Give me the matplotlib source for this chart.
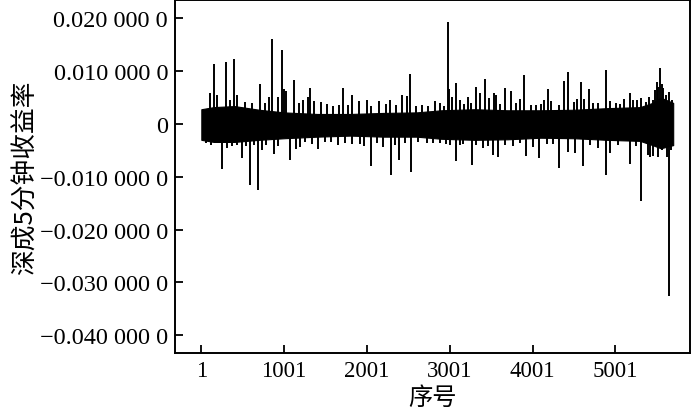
import matplotlib
matplotlib.use("Agg")
import matplotlib.pyplot as plt

# ---- data ----
# dense core band of the return series (sequence number, upper, lower)
band_idx = [1, 150, 400, 700, 1000, 1400, 1800, 2200, 2600, 2900, 3300,
            3700, 4100, 4500, 4900, 5300, 5450, 5550, 5700]
band_high = [0.0028, 0.0032, 0.0034, 0.0027, 0.0022, 0.0019, 0.0019, 0.0021,
             0.0022, 0.0026, 0.0028, 0.0026, 0.0026, 0.0027, 0.0030, 0.0032,
             0.0040, 0.0050, 0.0040]
band_low = [-0.0030, -0.0034, -0.0034, -0.0030, -0.0027, -0.0024, -0.0022,
            -0.0024, -0.0024, -0.0028, -0.0030, -0.0029, -0.0026, -0.0027,
            -0.0030, -0.0032, -0.0040, -0.0046, -0.0040]

# individual upward returns sticking out of the band
up_idx = [106, 151, 191, 299, 342, 396, 428, 529, 613, 704, 770, 813, 859,
          924, 979, 994, 1024, 1121, 1185, 1226, 1286, 1317, 1366, 1446, 1515,
          1592, 1668, 1716, 1773, 1825, 1906, 1999, 2051, 2148, 2232, 2280,
          2352, 2421, 2482, 2522, 2594, 2663, 2739, 2823, 2884, 2932, 2984,
          2996, 3025, 3073, 3125, 3168, 3218, 3258, 3315, 3367, 3433, 3470,
          3540, 3560, 3608, 3668, 3745, 3802, 3850, 3898, 3983, 4044, 4098,
          4140, 4185, 4224, 4321, 4385, 4433, 4502, 4535, 4583, 4626, 4683,
          4732, 4788, 4885, 4937, 5009, 5057, 5109, 5178, 5214, 5259, 5317,
          5372, 5408, 5456, 5486, 5500, 5522, 5540, 5559, 5580, 5612, 5654,
          5686]
up_val = [0.0059, 0.0114, 0.0055, 0.0118, 0.0045, 0.0123, 0.0055, 0.0042,
          0.0040, 0.0075, 0.0040, 0.0052, 0.0161, 0.0052, 0.0140, 0.0066,
          0.0062, 0.0084, 0.0040, 0.0046, 0.0052, 0.0069, 0.0044, 0.0041,
          0.0038, 0.0035, 0.0036, 0.0068, 0.0036, 0.0055, 0.0044, 0.0045,
          0.0034, 0.0044, 0.0038, 0.0045, 0.0036, 0.0055, 0.0053, 0.0095,
          0.0034, 0.0036, 0.0035, 0.0043, 0.0040, 0.0035, 0.0194, 0.0066,
          0.0051, 0.0078, 0.0046, 0.0038, 0.0051, 0.0040, 0.0071, 0.0059,
          0.0085, 0.0050, 0.0059, 0.0055, 0.0038, 0.0069, 0.0062, 0.0040,
          0.0047, 0.0093, 0.0036, 0.0036, 0.0037, 0.0045, 0.0066, 0.0044,
          0.0036, 0.0081, 0.0098, 0.0042, 0.0048, 0.0080, 0.0047, 0.0066,
          0.0040, 0.0040, 0.0103, 0.0043, 0.0040, 0.0038, 0.0047, 0.0059,
          0.0045, 0.0045, 0.0050, 0.0042, 0.0052, 0.0045, 0.0065, 0.0079,
          0.0070, 0.0106, 0.0075, 0.0068, 0.0055, 0.0061, 0.0045]

# individual downward returns sticking out of the band
down_idx = [58, 118, 247, 305, 372, 432, 490, 541, 589, 637, 682, 734, 782,
            883, 931, 1076, 1141, 1193, 1253, 1338, 1414, 1489, 1567, 1652,
            1737, 1821, 1918, 1970, 2050, 2123, 2199, 2292, 2340, 2388, 2461,
            2533, 2618, 2723, 2799, 2884, 2956, 3004, 3071, 3125, 3167, 3266,
            3318, 3407, 3463, 3527, 3581, 3669, 3765, 3850, 3922, 4010, 4079,
            4176, 4248, 4315, 4426, 4514, 4607, 4695, 4795, 4885, 4937, 5033,
            5178, 5250, 5308, 5399, 5420, 5461, 5513, 5565, 5622, 5650, 5674]
down_val = [-0.0036, -0.0040, -0.0085, -0.0045, -0.0042, -0.0040, -0.0064,
            -0.0042, -0.0115, -0.0040, -0.0126, -0.0049, -0.0040, -0.0056,
            -0.0042, -0.0069, -0.0047, -0.0043, -0.0035, -0.0038, -0.0047,
            -0.0035, -0.0034, -0.0040, -0.0036, -0.0037, -0.0037, -0.0042,
            -0.0080, -0.0036, -0.0043, -0.0096, -0.0040, -0.0069, -0.0036,
            -0.0091, -0.0035, -0.0036, -0.0036, -0.0036, -0.0038, -0.0040,
            -0.0071, -0.0040, -0.0038, -0.0077, -0.0040, -0.0045, -0.0042,
            -0.0058, -0.0063, -0.0040, -0.0042, -0.0036, -0.0060, -0.0044,
            -0.0064, -0.0038, -0.0038, -0.0083, -0.0053, -0.0055, -0.0079,
            -0.0040, -0.0045, -0.0096, -0.0055, -0.0040, -0.0075, -0.0042,
            -0.0146, -0.0058, -0.0062, -0.0060, -0.0062, -0.0050, -0.0062,
            -0.0326, -0.0050]

x_ticks = [1, 1001, 2001, 3001, 4001, 5001]
x_ticklabels = ["1", "1001", "2001", "3001", "4001", "5001"]
y_ticks = [0.02, 0.01, 0.0, -0.01, -0.02, -0.03, -0.04]
y_ticklabels = ["0.020 000 0", "0.010 000 0", "0", "\u22120.010 000 0",
                "\u22120.020 000 0", "\u22120.030 000 0", "\u22120.040 000 0"]

# ---- figure ----
fig = plt.figure(figsize=(7.0, 4.1), dpi=100)
ax = fig.add_axes([175 / 700, 1 - 354 / 410, (690 - 175) / 700, 353 / 410])

ax.fill_between(band_idx, band_low, band_high, color="black", lw=0.8,
                edgecolor="black")
ax.vlines(up_idx, 0, up_val, color="black", lw=1.4)
ax.vlines(down_idx, 0, down_val, color="black", lw=1.4)

ax.set_xlim(-317, 5903)
ax.set_ylim(-0.0434, 0.0235)

serif = "Liberation Serif"
ax.set_xticks(x_ticks)
ax.set_xticklabels(x_ticklabels, family=serif, fontsize=16.5)
ax.set_yticks(y_ticks)
ax.set_yticklabels(y_ticklabels, family=serif, fontsize=17.5)
ax.tick_params(direction="in", length=6, width=1.3, top=False, right=False,
               colors="black")
ax.tick_params(axis="x", pad=5)
ax.tick_params(axis="y", pad=5)
for s in ax.spines.values():
    s.set_linewidth(1.4)
    s.set_color("black")

cjk = ["Noto Sans CJK SC", "DejaVu Sans"]
ax.set_xlabel("序号", family=cjk, fontsize=17.5, labelpad=2)
ax.set_ylabel("深成5分钟收益率", family=cjk, fontsize=18.5, labelpad=1)

fig.savefig("out.png", dpi=100)
